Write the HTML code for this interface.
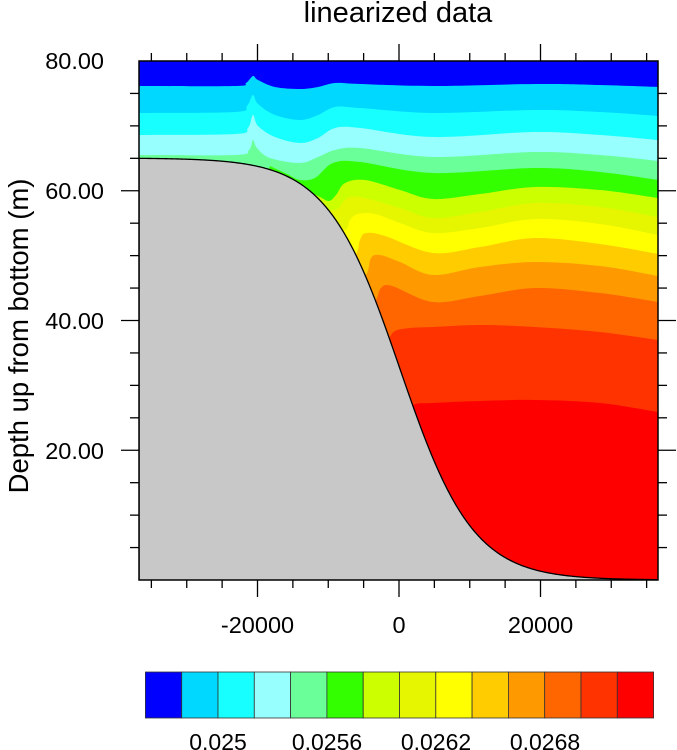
<!DOCTYPE html>
<html><head><meta charset="utf-8"><style>
html,body{margin:0;padding:0;background:#fff;}
svg{display:block;font-family:"Liberation Sans",Arial,sans-serif;}
</style></head><body>
<svg id="s" width="677" height="750" viewBox="0 0 677 750" xmlns="http://www.w3.org/2000/svg">
<defs><clipPath id="cp"><rect x="139" y="61" width="519" height="519"/></clipPath></defs>
<g clip-path="url(#cp)">
<rect x="139" y="61" width="519" height="519" fill="#ff0000"/>
<g id="bands"></g>
<path id="topo" fill="#c8c8c8" stroke="#000" stroke-width="1.3"/>
</g>
<rect x="139" y="61" width="519" height="519" fill="none" stroke="#000" stroke-width="1.5"/>
<g id="ticks" stroke="#000" stroke-width="1.3"></g>
<text x="398" y="22" font-size="29" text-anchor="middle">linearized data</text>
<text transform="translate(28,336) rotate(-90)" font-size="27.5" text-anchor="middle">Depth up from bottom (m)</text>
<g font-size="23.5" text-anchor="end">
<text x="104" y="69">80.00</text>
<text x="104" y="199">60.00</text>
<text x="104" y="329">40.00</text>
<text x="104" y="459">20.00</text>
</g>
<g font-size="23.5" text-anchor="middle">
<text x="257.5" y="633">-20000</text>
<text x="399" y="633">0</text>
<text x="540.5" y="633">20000</text>
</g>
<g id="cbar"></g>
<g font-size="23" text-anchor="middle">
<text x="218" y="750">0.025</text>
<text x="327" y="750">0.0256</text>
<text x="436" y="750">0.0262</text>
<text x="545" y="750">0.0268</text>
</g>
</svg>
<script>
var NS="http://www.w3.org/2000/svg";
var cols=["#0000ff","#00d8ff","#18ffff","#98ffff","#6aff98","#33ff00","#ccff00","#e6f500","#ffff00","#ffcc00","#ff9900","#ff6600","#ff3300","#ff0000"];
var B=[
[[139,86],[235,86],[246,83],[253,76],[258,80],[275,87],[300,89],[318,87],[335,83],[360,84],[433,86],[535,84],[600,85],[658,87]],
[[139,113],[235,112],[247,106],[253,95],[258,104],[275,115],[300,120],[318,115],[335,107],[360,108],[433,113],[535,110],[600,112],[658,116]],
[[139,135],[235,134],[248,128],[253,115],[258,126],[275,137],[300,143],[318,138],[335,128],[360,128],[433,137],[535,132],[600,135],[658,140]],
[[139,155],[235,155],[249,150],[253,140],[257,148],[270,158],[300,163],[318,157],[335,150],[360,148],[433,157],[535,152],[600,155],[658,161]],
[[270,166],[287,174],[300,180],[315,178],[333,163],[360,162],[433,173],[535,168],[600,172],[658,180]],
[[290,185],[305,190],[320,197],[329,201],[336,195],[345,183],[365,180],[400,190],[433,199],[480,194],[535,187],[600,190],[658,198]],
[[310,210],[335,210],[343,202],[350,197],[365,198],[400,208],[433,218],[480,212],[535,203],[600,207],[658,217]],
[[320,235],[345,230],[350,220],[358,214],[375,214],[400,223],[433,233],[480,228],[535,219],[600,224],[658,235]],
[[335,260],[355,255],[360,240],[366,233],[385,236],[433,253],[480,247],[535,238],[600,244],[658,254]],
[[350,285],[366,275],[371,258],[380,255],[400,262],[433,275],[480,267],[535,262],[600,266],[658,276]],
[[365,315],[376,300],[381,288],[392,286],[433,302],[480,296],[535,288],[600,293],[658,302]],
[[380,350],[388,340],[395,331],[410,328],[433,327],[480,325],[535,327],[600,332],[658,340]],
[[400,420],[413,405],[433,403],[480,401],[535,400],[600,403],[658,412]]
];
function cr(p){
  var d="";
  for(var i=0;i<p.length-1;i++){
    var p0=p[Math.max(i-1,0)],p1=p[i],p2=p[i+1],p3=p[Math.min(i+2,p.length-1)];
    var c1=[p1[0]+(p2[0]-p0[0])/6,p1[1]+(p2[1]-p0[1])/6];
    var c2=[p2[0]-(p3[0]-p1[0])/6,p2[1]-(p3[1]-p1[1])/6];
    d+=" C"+c1[0].toFixed(1)+","+c1[1].toFixed(1)+" "+c2[0].toFixed(1)+","+c2[1].toFixed(1)+" "+p2[0]+","+p2[1];
  }
  return d;
}
var bands=document.getElementById("bands");
for(var k=B.length-1;k>=0;k--){
  var pts=B[k].slice().reverse();
  var d="M139,61 L658,61 L"+pts[0][0]+","+pts[0][1]+cr(pts);
  if(B[k][0][0]>139) d+=" L139,580";
  d+=" Z";
  var e=document.createElementNS(NS,"path");
  e.setAttribute("d",d);e.setAttribute("fill",cols[k]);
  bands.appendChild(e);
}
var td="M139,585 L139,158";
for(var x=139;x<=660;x+=1){
  var y=369+211*Math.tanh((x-400)/73);
  if(x==139) y=Math.min(y,158.5);
  td+=" L"+x+","+y.toFixed(2);
}
td+=" L660,585 Z";
document.getElementById("topo").setAttribute("d",td);
var t=document.getElementById("ticks");
function ln(x1,y1,x2,y2){var e=document.createElementNS(NS,"line");e.setAttribute("x1",x1);e.setAttribute("y1",y1);e.setAttribute("x2",x2);e.setAttribute("y2",y2);t.appendChild(e);}
for(var v=-35000;v<=35000;v+=5000){
  var x=399+v*141.5/20000; var L=(v%20000==0)?17:8;
  ln(x,61,x,61-L); ln(x,580,x,580+L);
}
for(var m=5;m<80;m+=5){
  var y=580-m*6.4875; var L=(m%20==0)?18:9;
  ln(139,y,139-L,y); ln(658,y,658+L,y);
}
var cb=document.getElementById("cbar");
for(var i=0;i<14;i++){
  var r=document.createElementNS(NS,"rect");
  r.setAttribute("x",145.4+i*36.3);r.setAttribute("y",672);r.setAttribute("width",36.3);r.setAttribute("height",46);
  r.setAttribute("fill",cols[i]);r.setAttribute("stroke","#333");r.setAttribute("stroke-width","0.8");
  cb.appendChild(r);
}
</script>
</body></html>
